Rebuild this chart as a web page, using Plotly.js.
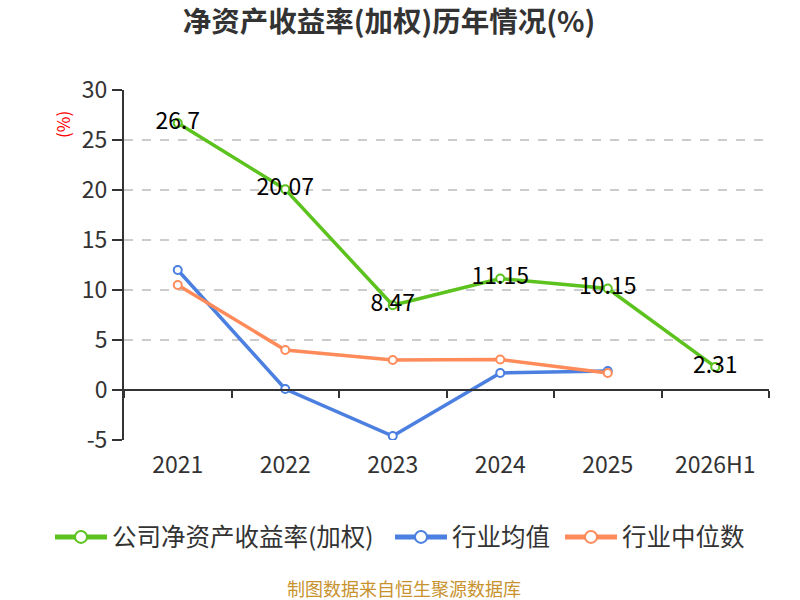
<!DOCTYPE html>
<html>
<head>
<meta charset="utf-8">
<script src="https://cdn.plot.ly/plotly-3.0.1.min.js"></script>
<style>
  body { margin: 0; background: #fff; }
  #chart { width: 800px; height: 600px; }
</style>
</head>
<body>
<div id="chart"></div>
<script>
// categories and series
var years = ['2021', '2022', '2023', '2024', '2025', '2026H1'];
var companyRoe = [26.7, 20.07, 8.47, 11.15, 10.15, 2.31];
var industryMean = [12.0, 0.1, -4.6, 1.7, 1.9];
var industryMedian = [10.5, 4.0, 3.0, 3.05, 1.7];
var yTicks = [-5, 0, 5, 10, 15, 20, 25, 30];
var yTickText = ['-5', '0', '5', '10', '15', '20', '25', '30'];

var FONT = '"Noto Sans CJK SC", "Noto Sans", sans-serif';

// plot area in px, used to place the legends and notes in paper coords
var PL = 124, PW = 645, PB = 440, PH = 350;
function px(x) { return (x - PL) / PW; }
function py(y) { return (PB - y) / PH; }

function series(name, y, color, legendId, withText) {
    var t = {
        type: 'scatter',
        name: name,
        legend: legendId,
        x: years.slice(0, y.length),
        y: y,
        mode: withText ? 'lines+markers+text' : 'lines+markers',
        line: {color: color, width: 3.5},
        marker: {size: 8, color: '#fff', line: {color: color, width: 2}},
        hoverinfo: 'x+y'
    };
    if (withText) {
        t.text = y.map(function (v) { return String(v); });
        t.textposition = 'middle center';
        t.textfont = {family: FONT, size: 23, color: '#000'};
    }
    return t;
}

var data = [
    series('公司净资产收益率(加权)', companyRoe, '#5bc21e', 'legend', true),
    series('行业均值', industryMean, '#4b7fe0', 'legend2', false),
    series('行业中位数', industryMedian, '#ff8b5a', 'legend3', false)
];

function legendAt(xPx) {
    return {
        orientation: 'h',
        x: px(xPx), xanchor: 'left',
        y: py(537), yanchor: 'middle',
        font: {family: FONT, size: 24.5, color: '#333'},
        itemwidth: 52,
        itemsizing: 'constant',
        bgcolor: 'rgba(0,0,0,0)'
    };
}

var layout = {
    width: 800,
    height: 600,
    margin: {l: PL, r: 800 - PL - PW, t: 90, b: 600 - PB, pad: 0},
    paper_bgcolor: '#fff',
    plot_bgcolor: '#fff',
    font: {family: FONT, color: '#333'},
    title: {
        text: '<b>净资产收益率(加权)历年情况(%)</b>',
        font: {family: FONT, size: 28.5, color: '#333'},
        x: 389 / 800, xanchor: 'center',
        y: 1 - 22 / 600, yanchor: 'middle'
    },
    showlegend: true,
    legend: legendAt(50),
    legend2: legendAt(390),
    legend3: legendAt(560),
    // x axis line sits on zero, ticks on category boundaries, labels pushed to the bottom
    xaxis: {
        type: 'category',
        categoryarray: years,
        range: [-0.5, 5.5],
        anchor: 'free',
        position: 1 / 7,
        showline: true,
        linecolor: '#333',
        linewidth: 2,
        ticks: 'outside',
        tickson: 'boundaries',
        ticklen: 7,
        tickwidth: 2,
        tickcolor: '#333',
        showgrid: false,
        zeroline: false,
        ticklabelstandoff: 54,
        tickfont: {family: FONT, size: 23, color: '#333'},
        fixedrange: true
    },
    yaxis: {
        range: [-5, 30],
        tickvals: yTicks,
        ticktext: yTickText,
        ticks: 'outside',
        ticklen: 10,
        tickwidth: 2,
        tickcolor: '#333',
        showline: true,
        linecolor: '#333',
        linewidth: 2,
        showgrid: true,
        gridcolor: '#cccccc',
        griddash: 'dash',
        gridwidth: 1.5,
        zeroline: false,
        tickfont: {family: FONT, size: 23, color: '#333'},
        fixedrange: true
    },
    annotations: [
        {
            text: '(%)',
            xref: 'paper', yref: 'paper',
            x: px(62), y: py(125),
            xanchor: 'center', yanchor: 'middle',
            textangle: -90,
            showarrow: false,
            font: {family: FONT, size: 17, color: '#ff0000'}
        },
        {
            text: '制图数据来自恒生聚源数据库',
            xref: 'paper', yref: 'paper',
            x: px(404), y: py(588),
            xanchor: 'center', yanchor: 'middle',
            showarrow: false,
            font: {family: FONT, size: 18, color: '#c8922e'}
        }
    ]
};

Plotly.newPlot('chart', data, layout, {displayModeBar: false, staticPlot: true});
</script>
</body>
</html>
